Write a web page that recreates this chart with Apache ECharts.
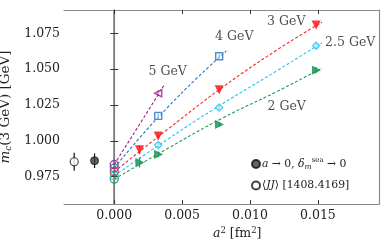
<!DOCTYPE html>
<html><head><meta charset="utf-8">
<script src="https://cdn.jsdelivr.net/npm/echarts@6/dist/echarts.min.js"></script>
<style>html,body{margin:0;padding:0;background:#fff}#c{width:390px;height:252px}</style>
</head><body><div id="c"></div>
<script>
// ---- data ----
const xTicks = [0.000, 0.005, 0.010, 0.015];
const yTicks = [0.975, 1.000, 1.025, 1.050, 1.075];

const groupNames = ['2 GeV', '2.5 GeV', '3 GeV', '4 GeV', '5 GeV'];
const groupColors = ['#22955a', '#22c3ef', '#ff2020', '#1f74bb', '#a11f8e'];

// lattice points: a^2, value, error
const x2 = [0.00186, 0.00324, 0.00773, 0.01487];
const y2 = [0.9849, 0.9905, 1.0114, 1.0493];
const e2 = [0.0035, 0.0020, 0.0015, 0.0022];
const x25 = [0.00324, 0.00773, 0.01487];
const y25 = [0.9970, 1.0233, 1.0664];
const e25 = [0.0018, 0.0015, 0.0018];
const x3 = [0.00186, 0.00324, 0.00773, 0.01487];
const y3 = [0.9939, 1.0035, 1.0358, 1.0811];
const e3 = [0.0030, 0.0020, 0.0015, 0.0015];
const x4 = [0.00324, 0.00773];
const y4 = [1.0174, 1.0590];
const e4 = [0.0018, 0.0015];
const x5 = [0.00324];
const y5 = [1.0332];
const e5 = [0.0020];

// continuum extrapolated values at a^2 = 0
const extrap = [0.9733, 0.9756, 0.9784, 0.9810, 0.9835];

// fit curves
const fitX2 = [0, 0.004, 0.008, 0.012, 0.0153];
const fitY2 = [0.9733, 0.9950, 1.0160, 1.0345, 1.0508];
const fitX25 = [0, 0.004, 0.008, 0.012, 0.0153];
const fitY25 = [0.9756, 1.0015, 1.0260, 1.0490, 1.0685];
const fitX3 = [0, 0.004, 0.008, 0.012, 0.0153];
const fitY3 = [0.9784, 1.0085, 1.0375, 1.0635, 1.0828];
const fitX4 = [0, 0.002, 0.004, 0.006, 0.00825];
const fitY4 = [0.9810, 1.0035, 1.0240, 1.0430, 1.0627];
const fitX5 = [0, 0.0018, 0.0037];
const fitY5 = [0.9835, 1.0105, 1.0393];

// reference results in the left panel
const finalX = [-0.00145]; const finalY = [0.9861]; const finalE = [0.0051];
const jjX = [-0.00295]; const jjY = [0.9854]; const jjE = [0.0063];

// curve label positions (data coords)
const labelX = [0.0127, 0.01738, 0.01267, 0.00884, 0.00394];
const labelY = [1.0235, 1.0681, 1.0834, 1.0723, 1.0479];

// ---- chart ----
const FONT = 'DejaVu Serif';
const FS = 12.5;
const xs = [x2, x25, x3, x4, x5], ys = [y2, y25, y3, y4, y5], es = [e2, e25, e3, e4, e5];
const fxs = [fitX2, fitX25, fitX3, fitX4, fitX5], fys = [fitY2, fitY25, fitY3, fitY4, fitY5];
const symbols = [
  {symbol: 'triangle', rot: -90, fill: true},
  {symbol: 'diamond', rot: 0, fill: false},
  {symbol: 'triangle', rot: 180, fill: true},
  {symbol: 'rect', rot: 0, fill: false},
  {symbol: 'triangle', rot: 90, fill: false}
];
const zip = (a, b) => a.map((v, i) => [v, b[i]]);
const zip3 = (a, b, c) => a.map((v, i) => [v, b[i], c[i]]);

function errSeries(data, color, width) {
  return {
    type: 'custom', xAxisIndex: 0, yAxisIndex: 0, silent: true, z: 4,
    data: data,
    renderItem: function (params, api) {
      const x = api.value(0), y = api.value(1), e = api.value(2);
      const p1 = api.coord([x, y - e]), p2 = api.coord([x, y + e]);
      return {type: 'line', shape: {x1: p1[0], y1: p1[1], x2: p2[0], y2: p2[1]},
        style: {stroke: color, lineWidth: width}};
    }
  };
}

const series = [];
for (let g = 0; g < 5; g++) {
  const c = groupColors[g];
  series.push({
    type: 'line', smooth: 0.5, showSymbol: false, silent: true, z: 2,
    data: zip(fxs[g], fys[g]),
    lineStyle: {color: c, width: 1.1, type: [3, 2]}
  });
  series.push(errSeries(zip3(xs[g], ys[g], es[g]), c, 1.3));
  series.push({
    type: 'scatter', z: 5, symbol: symbols[g].symbol, symbolRotate: symbols[g].rot,
    symbolSize: 7,
    data: zip(xs[g], ys[g]),
    itemStyle: {color: symbols[g].fill ? c : 'rgba(255,255,255,0.6)', borderColor: c, borderWidth: 1.4}
  });
}
for (let g = 0; g < 5; g++) {
  const c = groupColors[g];
  series.push({
    type: 'scatter', z: 6, symbol: 'circle', symbolSize: 8,
    data: [[0, extrap[g]]],
    itemStyle: {color: 'rgba(255,255,255,0)', borderColor: c, borderWidth: 1.4}
  });
}
series.push(errSeries(zip3(finalX, finalY, finalE), '#111', 1.2));
series.push(errSeries(zip3(jjX, jjY, jjE), '#111', 1.2));
series.push({
  name: 'final', type: 'scatter', z: 6, symbol: 'circle', symbolSize: 8,
  data: zip(finalX, finalY),
  itemStyle: {color: '#3b3b3b', borderColor: '#111', borderWidth: 1}
});
series.push({
  name: 'jj', type: 'scatter', z: 6, symbol: 'circle', symbolSize: 8,
  data: zip(jjX, jjY),
  itemStyle: {color: '#fff', borderColor: '#111', borderWidth: 1.1}
});
series.push({
  type: 'scatter', z: 7, symbolSize: 0, silent: true,
  data: labelX.map((x, i) => ({value: [x, labelY[i]], name: groupNames[i]})),
  label: {show: true, position: 'inside', formatter: p => p.name,
    fontFamily: FONT, fontSize: FS, color: '#222'}
});

const gray = '#8a8a8a';
const option = {
  animation: false,
  grid: {left: 64, right: 11, top: 10, bottom: 48, containLabel: false, outerBoundsMode: 'none'},
  xAxis: [{
    type: 'value', position: 'bottom', min: -0.0037, max: 0.0195,
    axisLine: {show: true, lineStyle: {color: gray, width: 1.2}},
    axisTick: {show: true, inside: true, length: 4, customValues: xTicks, lineStyle: {color: '#333'}},
    axisLabel: {show: true, customValues: xTicks, formatter: v => v.toFixed(3),
      fontFamily: FONT, fontSize: FS, color: '#222', margin: 5},
    splitLine: {show: false}
  }, {
    type: 'value', position: 'top', min: -0.0037, max: 0.0195,
    axisLine: {show: true, lineStyle: {color: gray, width: 1.2}},
    axisTick: {show: true, inside: true, length: 4, customValues: xTicks, lineStyle: {color: '#333'}},
    axisLabel: {show: false}, splitLine: {show: false}
  }],
  yAxis: [{
    type: 'value', position: 'left', min: 0.9559, max: 1.0913,
    axisLine: {show: true, lineStyle: {color: gray, width: 1.2}},
    axisTick: {show: true, inside: true, length: 4, customValues: yTicks, lineStyle: {color: '#333'}},
    axisLabel: {show: true, customValues: yTicks, formatter: v => v.toFixed(3),
      fontFamily: FONT, fontSize: FS, color: '#222', margin: 4},
    splitLine: {show: false},
    name: '{it|m̅}{sub|c}(3 GeV) [GeV]', nameLocation: 'middle', nameGap: 44,
    nameTextStyle: {fontFamily: FONT, fontSize: 13.5, color: '#222',
      rich: {it: {fontFamily: FONT, fontStyle: 'italic', fontSize: 13.5, color: '#222'},
             sub: {fontFamily: FONT, fontStyle: 'italic', fontSize: 9, color: '#222', verticalAlign: 'bottom', padding: [6, 0, 0, 0]}}}
  }, {
    type: 'value', position: 'left', offset: -40, min: 0.9559, max: 1.0913,
    axisLine: {show: true, lineStyle: {color: '#7a7a7a', width: 1.5}},
    axisTick: {show: true, inside: false, length: 4, customValues: yTicks, lineStyle: {color: '#333'}},
    axisLabel: {show: false}, splitLine: {show: false}
  }, {
    type: 'value', position: 'right', min: 0.9559, max: 1.0913,
    axisLine: {show: true, lineStyle: {color: gray, width: 1.2}},
    axisTick: {show: false}, axisLabel: {show: false}, splitLine: {show: false}
  }],
  legend: {
    data: [{name: 'final', icon: 'circle'}, {name: 'jj', icon: 'circle'}],
    orient: 'vertical', left: 246, top: 152, itemWidth: 8, itemHeight: 8, itemGap: 9,
    formatter: function (n) {
      return n === 'final' ? '{it|a} → 0, {it|δ}{sub|m}{sup|sea} → 0' : '⟨{it|JJ}⟩ [1408.4169]';
    },
    textStyle: {fontFamily: FONT, fontSize: 10.8, color: '#222', padding: [0, 0, 0, -3],
      rich: {it: {fontFamily: FONT, fontStyle: 'italic', fontSize: 10.8, color: '#222'},
             sub: {fontFamily: FONT, fontStyle: 'italic', fontSize: 7.5, color: '#222', verticalAlign: 'bottom', padding: [6, 0, 0, 0]},
             sup: {fontFamily: FONT, fontSize: 7, color: '#222', verticalAlign: 'top', padding: [0, 0, 6, 0]}}}
  },
  graphic: [{
    type: 'text', left: 213, top: 226,
    style: {rich: {it: {fontFamily: FONT, fontStyle: 'italic', fontSize: FS, fill: '#222'},
                   n: {fontFamily: FONT, fontSize: FS, fill: '#222'},
                   sup: {fontFamily: FONT, fontSize: 8.5, fill: '#222', verticalAlign: 'top', padding: [0, 0, 6, 0]}},
      text: '{it|a}{sup|2}{n| [fm}{sup|2}{n|]}'}
  }],
  series: series
};
const chart = echarts.init(document.getElementById('c'), null, {renderer: 'canvas'});
chart.setOption(option);
</script></body></html>
